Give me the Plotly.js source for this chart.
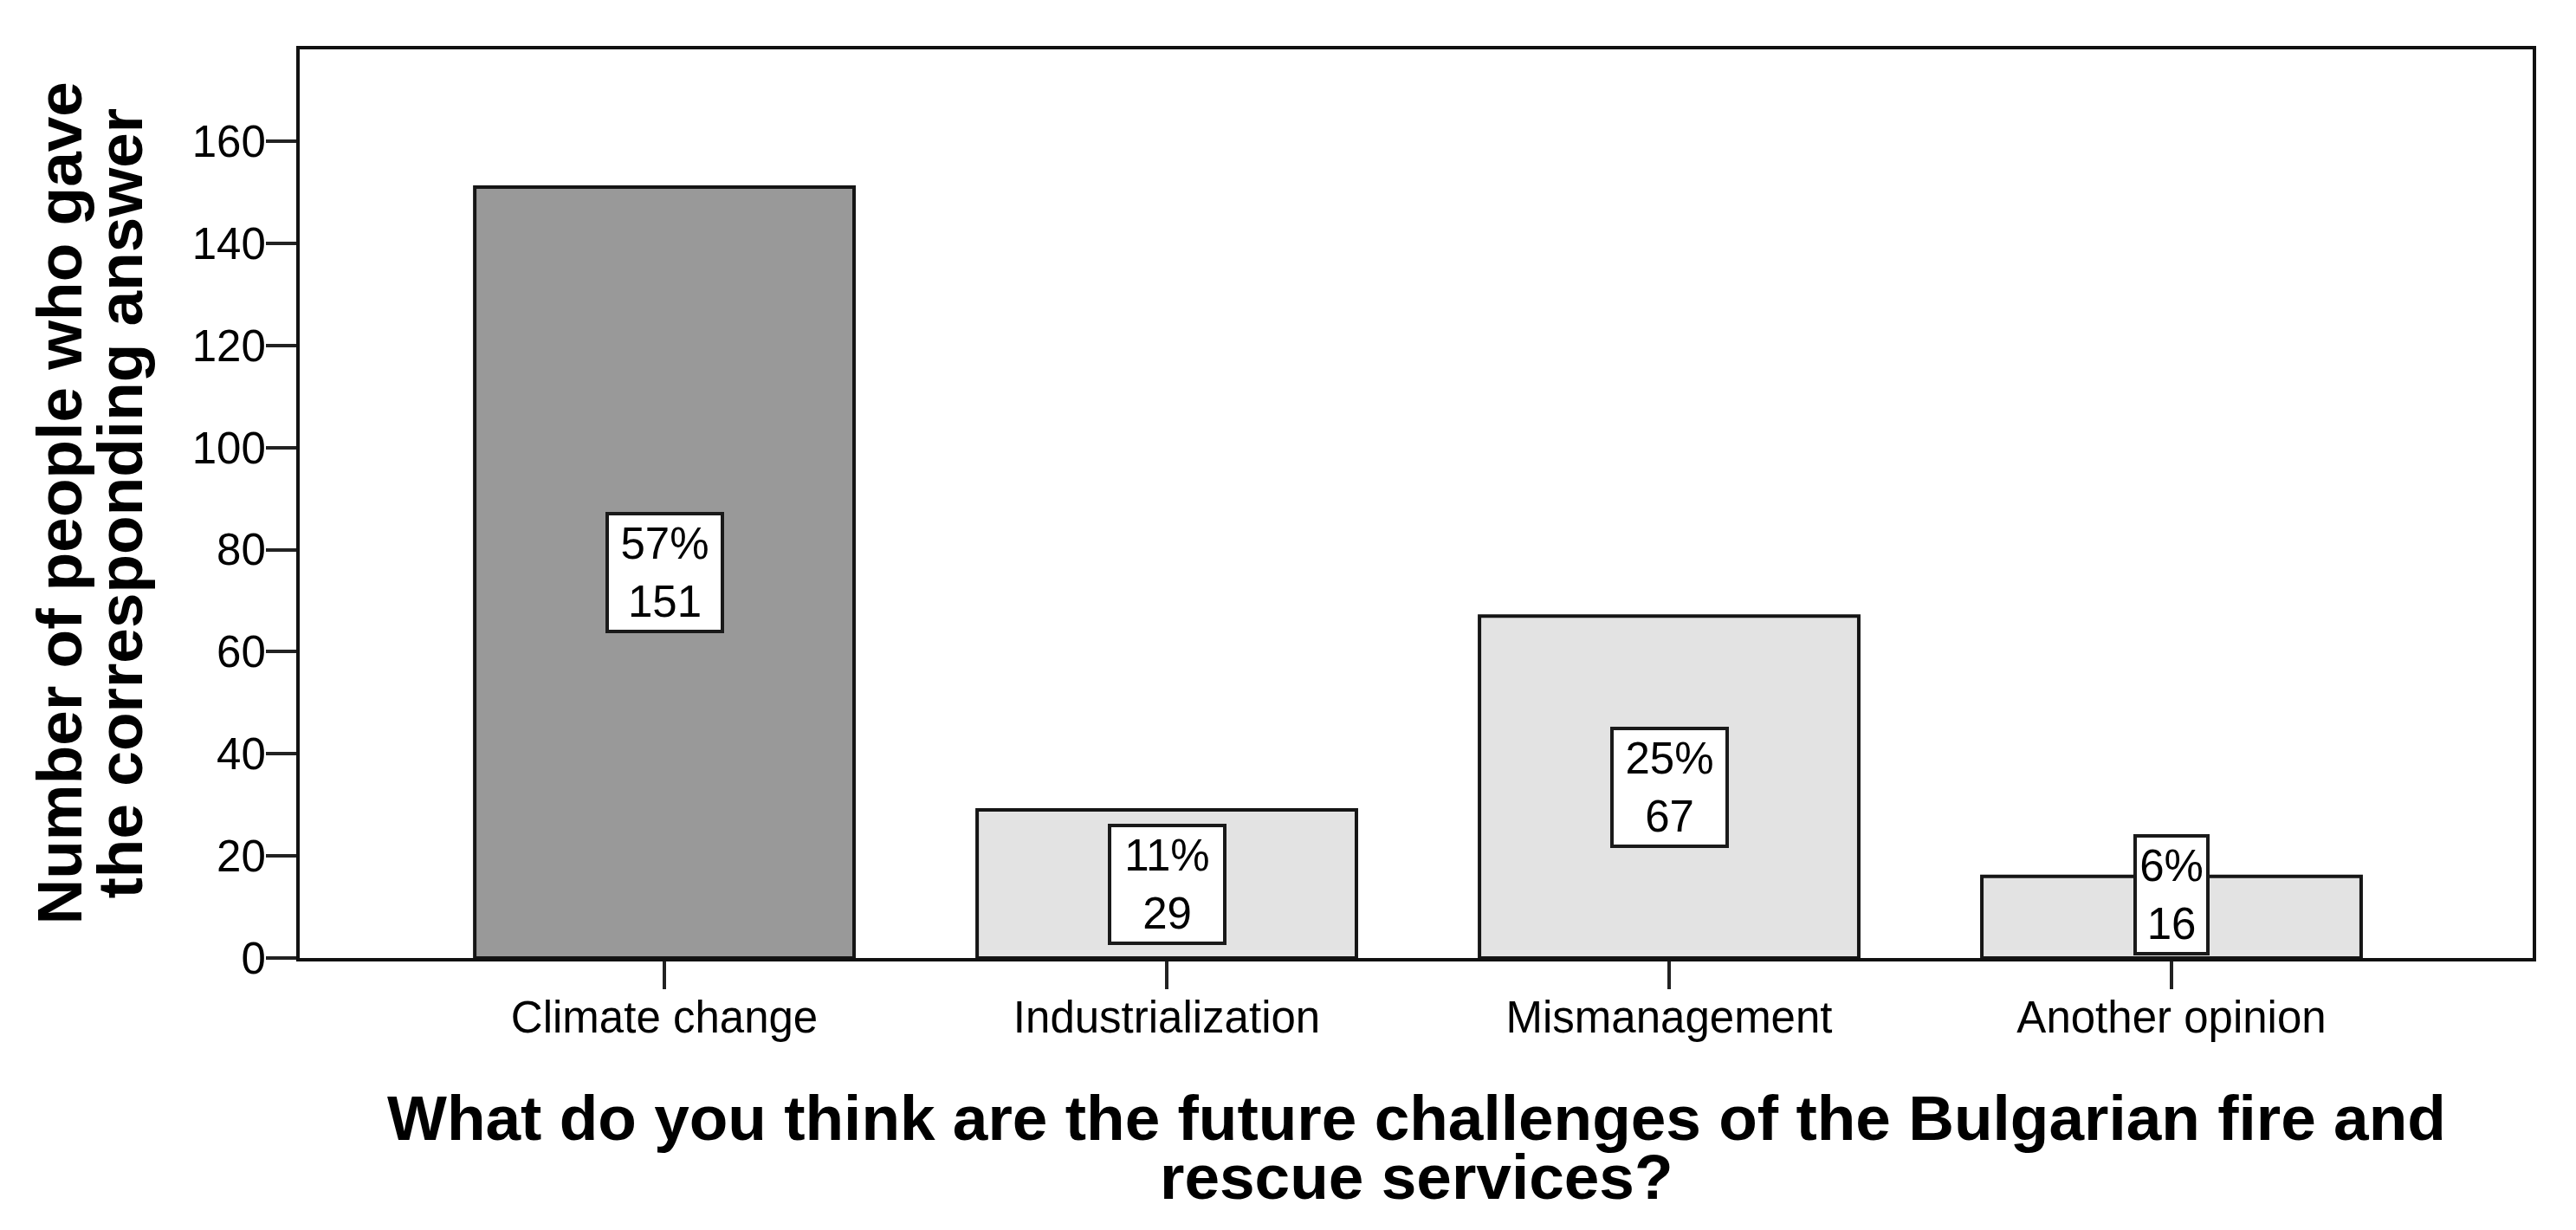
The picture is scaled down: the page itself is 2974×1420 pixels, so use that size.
<!DOCTYPE html>
<html>
<head>
<meta charset="utf-8">
<script src="https://cdn.plot.ly/plotly-3.0.1.min.js"></script>
<style>
  html, body { margin: 0; padding: 0; background: #fff; }
  #chart { width: 2974px; height: 1420px; }
</style>
</head>
<body>
<div id="chart"></div>
<script>
// answers to "future challenges" question, counts
var categories = ['Climate change', 'Industrialization', 'Mismanagement', 'Another opinion'];
var counts = [151, 29, 67, 16];
var pctLabels = ['57%', '11%', '25%', '6%'];

var yTitleLines = ['Number of people who gave', 'the corresponding answer'];
var xTitleLines = ['What do you think are the future challenges of the Bulgarian fire and', 'rescue services?'];

var yTicks = [0, 20, 40, 60, 80, 100, 120, 140, 160];

var FONT = '"Liberation Sans", Arial, sans-serif';
var yMax = 178;
var plotH = 1420 - 57 - 314;

// biggest answer is the darker bar
var maxCount = Math.max.apply(null, counts);
var fills = counts.map(function (c) { return c === maxCount ? '#999999' : '#e3e3e3'; });

var bars = {
    type: 'bar',
    x: categories,
    y: counts,
    marker: {
        color: fills,
        line: { color: '#151515', width: 4 }
    },
    hoverinfo: 'x+y'
};

// label boxes sit at half bar height, pushed up when they would hit the axis
var boxHalf = 71 * yMax / plotH;
var annotations = categories.map(function (cat, i) {
    var mid = counts[i] / 2;
    var low = mid < boxHalf;
    // box width follows the number of characters, like the original
    var nChars = Math.max(pctLabels[i].length, String(counts[i]).length);
    return {
        x: cat,
        y: low ? 0 : mid,
        yanchor: low ? 'bottom' : 'middle',
        yshift: low ? 3 : 0,
        xref: 'x', yref: 'y',
        text: pctLabels[i] + '<br>' + counts[i],
        showarrow: false,
        width: nChars * 49 - 22,
        height: 128,
        font: { family: FONT, size: 51, color: '#000' },
        bgcolor: '#ffffff',
        bordercolor: '#1a1a1a',
        borderwidth: 4,
        borderpad: 2
    };
});

// axis titles drawn line by line, the original has tight line spacing
var yTitleX = [68, 138];
yTitleLines.forEach(function (line, i) {
    annotations.push({
        xref: 'paper', yref: 'paper',
        x: 0, y: 0.5,
        xanchor: 'center', yanchor: 'middle',
        xshift: yTitleX[i] - 346,
        textangle: -90,
        text: line,
        showarrow: false,
        font: { family: FONT, size: 73, color: '#000', weight: 'bold' }
    });
});

var xTitleY = [1290, 1358];
xTitleLines.forEach(function (line, i) {
    annotations.push({
        xref: 'paper', yref: 'paper',
        x: 0.5, y: 0,
        xanchor: 'center', yanchor: 'middle',
        yshift: 1106 - xTitleY[i],
        text: line,
        showarrow: false,
        font: { family: FONT, size: 73, color: '#000', weight: 'bold' }
    });
});

var layout = {
    width: 2974,
    height: 1420,
    margin: { l: 346, r: 50, t: 57, b: 314 },
    paper_bgcolor: '#ffffff',
    plot_bgcolor: '#ffffff',
    bargap: 0.245,
    showlegend: false,
    font: { family: FONT, color: '#000' },
    xaxis: {
        type: 'category',
        range: [-0.726, 3.719],
        showgrid: false,
        zeroline: false,
        showline: true,
        linecolor: '#111',
        linewidth: 4,
        mirror: true,
        ticks: 'outside',
        ticklen: 32,
        tickwidth: 4,
        tickcolor: '#222',
        ticklabelstandoff: -11,
        tickfont: { family: FONT, size: 51, color: '#000' }
    },
    yaxis: {
        range: [0, yMax],
        tickvals: yTicks,
        showgrid: false,
        zeroline: false,
        showline: true,
        linecolor: '#111',
        linewidth: 4,
        mirror: true,
        ticks: 'outside',
        ticklen: 35,
        tickwidth: 4,
        tickcolor: '#222',
        ticklabelstandoff: -10,
        tickfont: { family: FONT, size: 51, color: '#000' }
    },
    annotations: annotations
};

Plotly.newPlot('chart', [bars], layout, { displayModeBar: false, staticPlot: true });
</script>
</body>
</html>
